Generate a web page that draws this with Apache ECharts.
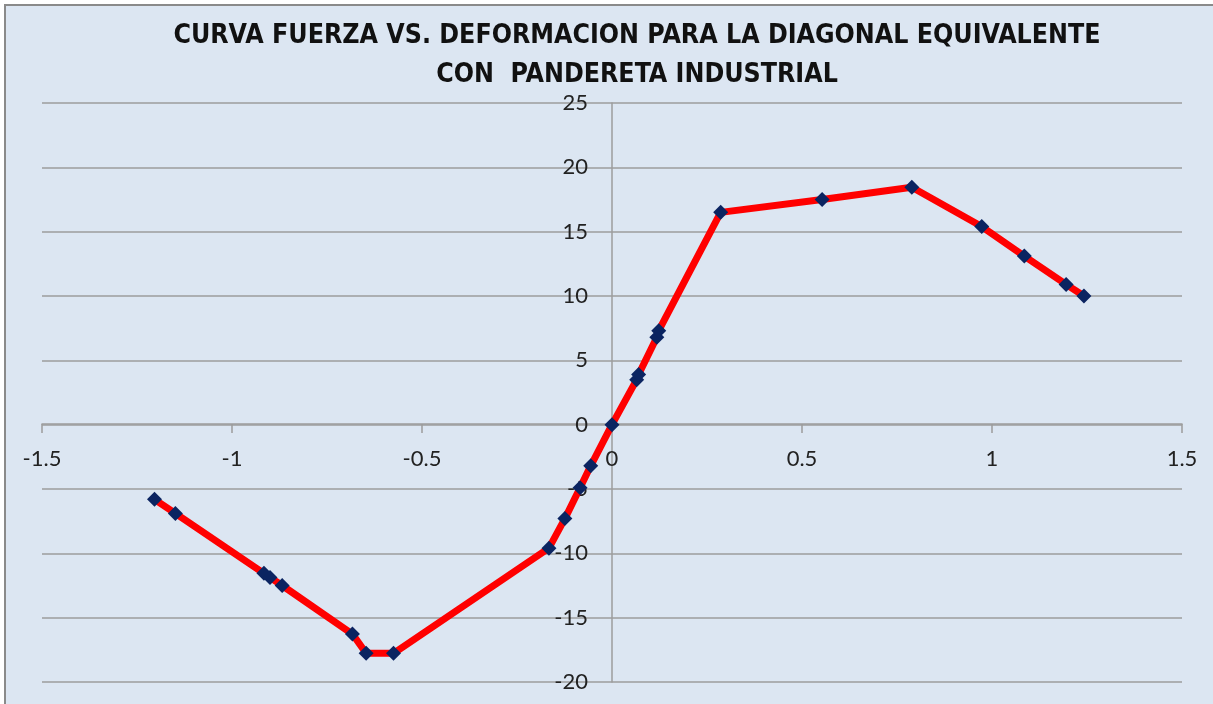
<!DOCTYPE html>
<html>
<head>
<meta charset="utf-8">
<script src="https://cdn.jsdelivr.net/npm/echarts@6/dist/echarts.min.js"></script>
<style>
  html, body { margin: 0; padding: 0; background: #fff; overflow: hidden; }
  #frame { position: absolute; left: 4px; top: 4px; width: 1300px; height: 800px;
           background: #dce6f2; border-left: 2px solid #8a8a8a; border-top: 2px solid #8a8a8a; }
  #chart { position: absolute; left: 0; top: 0; width: 1213px; height: 704px; }
</style>
</head>
<body>
<div id="frame"></div>
<div id="chart"></div>
<script>
// deformacion (x) y fuerza (y)
var deformacion = [-1.204, -1.149, -0.916, -0.900, -0.868, -0.683, -0.647, -0.575,
  -0.166, -0.124, -0.084, -0.056, 0, 0.065, 0.070, 0.118, 0.123,
  0.286, 0.553, 0.789, 0.973, 1.085, 1.195, 1.242];
var fuerza = [-5.8, -6.9, -11.55, -11.87, -12.5, -16.27, -17.77, -17.77,
  -9.6, -7.3, -4.9, -3.2, 0, 3.5, 3.9, 6.8, 7.3,
  16.5, 17.5, 18.45, 15.4, 13.1, 10.9, 10.0];
var xTicks = [-1.5, 1.5, 0.5];   // min, max, interval
var yTicks = [-20, 25, 5];

var puntos = deformacion.map(function(d, i) { return [d, fuerza[i]]; });

var chart = echarts.init(document.getElementById("chart"));
chart.setOption({
  backgroundColor: "transparent",
  animation: false,
  title: {
    text: "CURVA FUERZA VS. DEFORMACION PARA LA DIAGONAL EQUIVALENTE\nCON  PANDERETA INDUSTRIAL",
    left: 632,
    top: 12,
    textAlign: "center",
    textStyle: {
      fontFamily: "Liberation Sans Narrow, DejaVu Sans Condensed, sans-serif",
      fontWeight: "bold",
      fontSize: 26.5,
      lineHeight: 39,
      color: "#111"
    }
  },
  grid: {
    left: 42,
    right: 31,
    top: 103,
    bottom: 22,
    outerBoundsMode: "none",
    containLabel: false
  },
  xAxis: {
    type: "value",
    min: xTicks[0],
    max: xTicks[1],
    interval: xTicks[2],
    // axis sits on y = 0 (258px above the grid bottom)
    offset: -258,
    axisLine: { onZero: false, lineStyle: { color: "#9c9c9c", width: 1.5 } },
    axisTick: { show: true, length: 9, lineStyle: { color: "#9c9c9c", width: 1.5 } },
    axisLabel: { margin: 24, fontSize: 22, color: "#222", fontFamily: "Lato, sans-serif" },
    splitLine: { show: false }
  },
  yAxis: {
    type: "value",
    min: yTicks[0],
    max: yTicks[1],
    interval: yTicks[2],
    // axis sits on x = 0 (570px right of the grid left)
    offset: -570,
    axisLine: { show: true, onZero: false, lineStyle: { color: "#9c9c9c", width: 1.5 } },
    axisTick: { show: false },
    axisLabel: { margin: 24, fontSize: 22, color: "#222", fontFamily: "Lato, sans-serif" },
    splitLine: { show: true, lineStyle: { color: "#9c9c9c", width: 1.5 } }
  },
  series: [
    {
      type: "line",
      data: puntos,
      lineStyle: { color: "#ff0000", width: 7 },
      symbol: "diamond",
      symbolSize: 15,
      itemStyle: { color: "#0b2461" },
      z: 3
    }
  ]
});
</script>
</body>
</html>
